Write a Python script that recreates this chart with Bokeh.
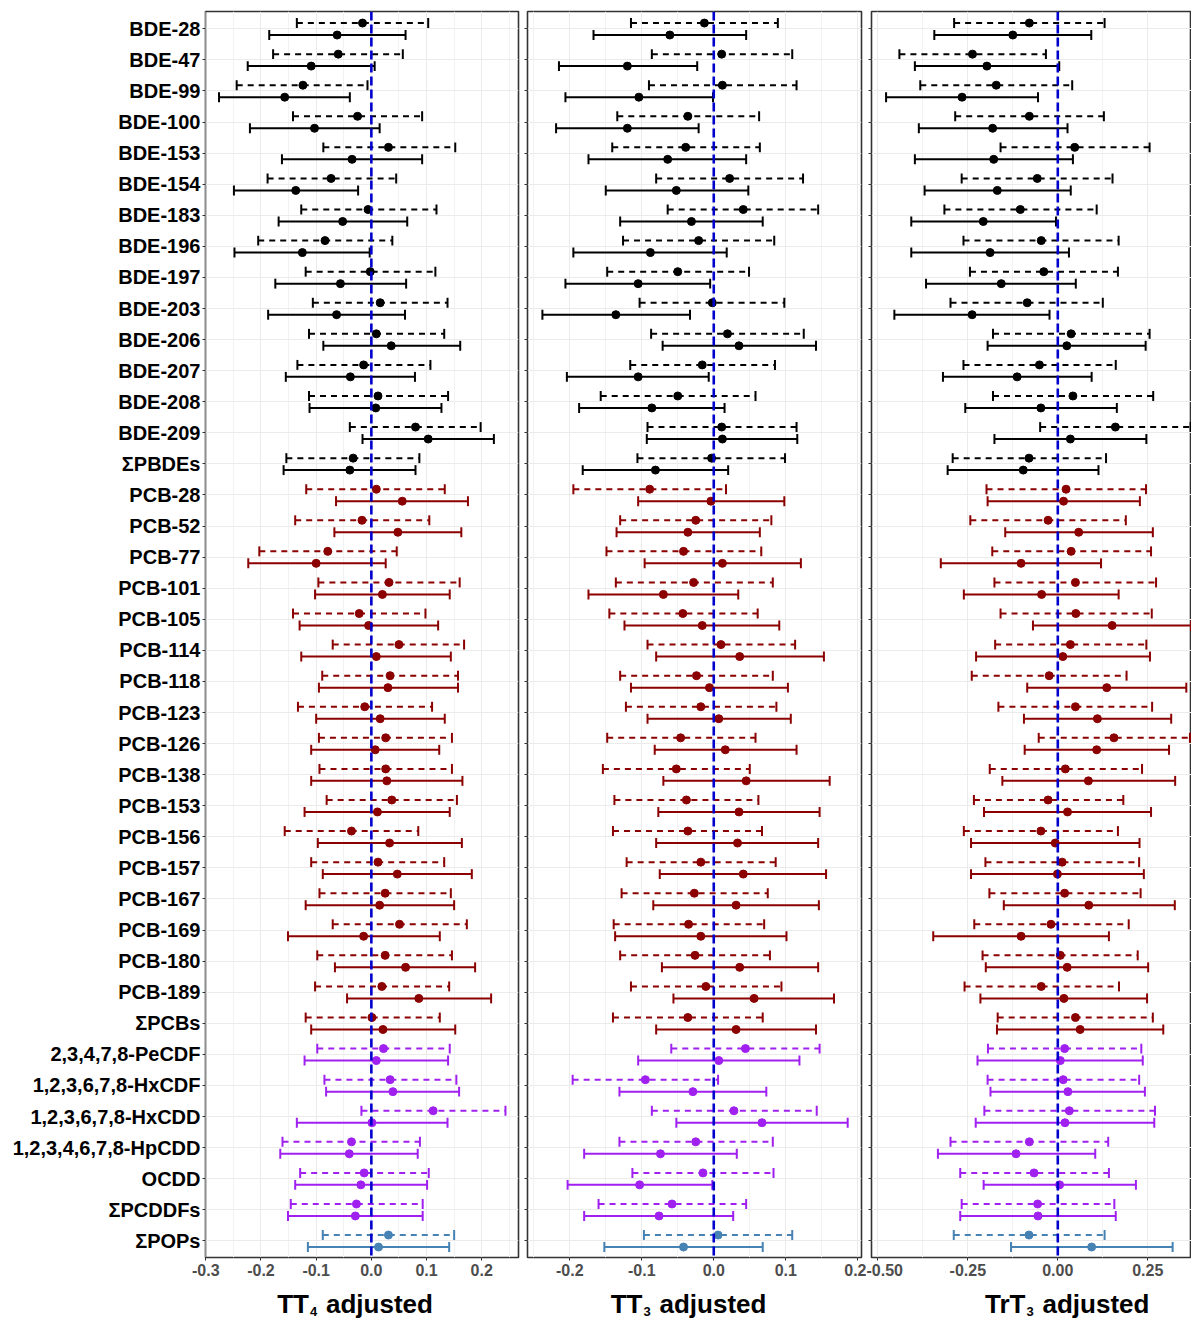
from bokeh.plotting import figure
from bokeh.models import Range1d, FixedTicker, PrintfTickFormatter, Span, ColumnDataSource
from bokeh.layouts import row, column
from bokeh.core.properties import value
from bokeh.embed import file_html
from bokeh.resources import INLINE

# ---------------- data ----------------
categories = ["BDE-28", "BDE-47", "BDE-99", "BDE-100", "BDE-153", "BDE-154", "BDE-183", "BDE-196",
              "BDE-197", "BDE-203", "BDE-206", "BDE-207", "BDE-208", "BDE-209", "ΣPBDEs",
              "PCB-28", "PCB-52", "PCB-77", "PCB-101", "PCB-105", "PCB-114", "PCB-118", "PCB-123",
              "PCB-126", "PCB-138", "PCB-153", "PCB-156", "PCB-157", "PCB-167", "PCB-169", "PCB-180",
              "PCB-189", "ΣPCBs",
              "2,3,4,7,8-PeCDF", "1,2,3,6,7,8-HxCDF", "1,2,3,6,7,8-HxCDD", "1,2,3,4,6,7,8-HpCDD",
              "OCDD", "ΣPCDDFs", "ΣPOPs"]
groups = ["PBDE"] * 15 + ["PCB"] * 18 + ["PCDDF"] * 6 + ["POP"]
group_colors = {"PBDE": "#000000", "PCB": "#8B0000", "PCDDF": "#A020F0", "POP": "#4682B4"}

# TT4 adjusted -- dashed series
tt4_dash_est = [-0.016, -0.060, -0.124, -0.025, 0.031, -0.073, -0.006, -0.084, -0.002, 0.016, 0.009, -0.014, 0.012, 0.080, -0.033,
                0.009, -0.017, -0.079, 0.032, -0.022, 0.050, 0.034, -0.012, 0.026, 0.026, 0.037, -0.036, 0.012, 0.025, 0.051, 0.025, 0.019, 0.001,
                0.022, 0.034, 0.112, -0.036, -0.013, -0.027, 0.031]
tt4_dash_lo = [-0.135, -0.178, -0.244, -0.142, -0.087, -0.188, -0.127, -0.205, -0.119, -0.106, -0.113, -0.134, -0.113, -0.039, -0.154,
               -0.118, -0.138, -0.203, -0.096, -0.142, -0.070, -0.089, -0.133, -0.095, -0.094, -0.081, -0.157, -0.109, -0.094, -0.070, -0.098, -0.102, -0.119,
               -0.098, -0.085, -0.018, -0.161, -0.129, -0.146, -0.088]
tt4_dash_hi = [0.103, 0.057, -0.007, 0.092, 0.152, 0.045, 0.118, 0.038, 0.116, 0.138, 0.132, 0.107, 0.139, 0.198, 0.087,
               0.133, 0.105, 0.046, 0.160, 0.098, 0.168, 0.157, 0.110, 0.146, 0.146, 0.155, 0.085, 0.132, 0.144, 0.173, 0.146, 0.141, 0.124,
               0.142, 0.154, 0.243, 0.088, 0.104, 0.093, 0.150]
# TT4 adjusted -- solid series
tt4_solid_est = [-0.062, -0.109, -0.157, -0.103, -0.035, -0.137, -0.052, -0.125, -0.056, -0.063, 0.036, -0.038, 0.008, 0.103, -0.039,
                 0.056, 0.048, -0.100, 0.020, -0.005, 0.009, 0.030, 0.016, 0.007, 0.028, 0.011, 0.033, 0.047, 0.015, -0.014, 0.062, 0.086, 0.021,
                 0.009, 0.039, 0.001, -0.040, -0.019, -0.029, 0.013]
tt4_solid_lo = [-0.185, -0.224, -0.276, -0.220, -0.162, -0.249, -0.168, -0.248, -0.174, -0.187, -0.087, -0.155, -0.112, -0.016, -0.159,
                -0.064, -0.067, -0.223, -0.102, -0.130, -0.127, -0.095, -0.100, -0.109, -0.109, -0.121, -0.097, -0.088, -0.119, -0.151, -0.066, -0.044, -0.109,
                -0.121, -0.082, -0.135, -0.165, -0.138, -0.151, -0.115]
tt4_solid_hi = [0.062, 0.006, -0.039, 0.015, 0.092, -0.024, 0.065, -0.003, 0.063, 0.061, 0.161, 0.079, 0.127, 0.222, 0.080,
                0.175, 0.163, 0.026, 0.142, 0.121, 0.144, 0.157, 0.133, 0.123, 0.165, 0.142, 0.164, 0.182, 0.150, 0.124, 0.188, 0.217, 0.152,
                0.139, 0.159, 0.138, 0.084, 0.101, 0.093, 0.141]

# TT3 adjusted -- dashed series
tt3_dash_est = [-0.013, 0.011, 0.012, -0.036, -0.039, 0.022, 0.041, -0.021, -0.050, -0.002, 0.019, -0.016, -0.050, 0.011, -0.003,
                -0.089, -0.025, -0.042, -0.028, -0.043, 0.010, -0.024, -0.018, -0.046, -0.052, -0.038, -0.036, -0.018, -0.027, -0.035, -0.026, -0.011, -0.036,
                0.044, -0.095, 0.028, -0.025, -0.015, -0.058, 0.006]
tt3_dash_lo = [-0.115, -0.086, -0.090, -0.134, -0.141, -0.080, -0.064, -0.126, -0.148, -0.103, -0.087, -0.116, -0.157, -0.092, -0.106,
               -0.195, -0.130, -0.149, -0.136, -0.145, -0.092, -0.130, -0.122, -0.148, -0.154, -0.138, -0.140, -0.121, -0.128, -0.139, -0.130, -0.115, -0.140,
               -0.059, -0.196, -0.086, -0.131, -0.113, -0.160, -0.097]
tt3_dash_hi = [0.089, 0.109, 0.115, 0.063, 0.064, 0.124, 0.145, 0.084, 0.049, 0.098, 0.125, 0.085, 0.058, 0.115, 0.099,
               0.017, 0.080, 0.066, 0.082, 0.061, 0.113, 0.082, 0.087, 0.058, 0.050, 0.062, 0.067, 0.086, 0.075, 0.070, 0.078, 0.094, 0.068,
               0.147, 0.006, 0.143, 0.082, 0.083, 0.045, 0.109]
# TT3 adjusted -- solid series
tt3_solid_est = [-0.061, -0.120, -0.104, -0.120, -0.064, -0.052, -0.031, -0.088, -0.105, -0.136, 0.035, -0.105, -0.086, 0.012, -0.081,
                 -0.004, -0.036, 0.012, -0.070, -0.016, 0.036, -0.006, 0.007, 0.016, 0.045, 0.035, 0.033, 0.041, 0.031, -0.018, 0.036, 0.056, 0.031,
                 0.007, -0.029, 0.067, -0.074, -0.103, -0.076, -0.042]
tt3_solid_lo = [-0.167, -0.215, -0.206, -0.219, -0.174, -0.150, -0.130, -0.195, -0.206, -0.238, -0.071, -0.204, -0.187, -0.093, -0.182,
                -0.105, -0.135, -0.096, -0.174, -0.124, -0.080, -0.115, -0.092, -0.082, -0.070, -0.077, -0.080, -0.075, -0.084, -0.137, -0.072, -0.056, -0.080,
                -0.105, -0.131, -0.052, -0.180, -0.203, -0.180, -0.152]
tt3_solid_hi = [0.045, -0.023, -0.001, -0.021, 0.045, 0.048, 0.068, 0.018, -0.005, -0.033, 0.142, -0.007, 0.015, 0.116, 0.020,
                0.098, 0.064, 0.121, 0.034, 0.091, 0.153, 0.103, 0.107, 0.115, 0.161, 0.147, 0.145, 0.156, 0.146, 0.101, 0.145, 0.167, 0.142,
                0.119, 0.073, 0.186, 0.032, -0.002, 0.027, 0.068]

# TrT3 adjusted -- dashed series
trt3_dash_est = [-0.079, -0.237, -0.171, -0.079, 0.047, -0.057, -0.104, -0.046, -0.039, -0.085, 0.037, -0.051, 0.042, 0.160, -0.080,
                 0.023, -0.027, 0.037, 0.049, 0.050, 0.035, -0.024, 0.049, 0.156, 0.021, -0.027, -0.047, 0.012, 0.019, -0.019, 0.007, -0.046, 0.049,
                 0.019, 0.015, 0.032, -0.079, -0.066, -0.056, -0.080]
trt3_dash_lo = [-0.288, -0.440, -0.382, -0.285, -0.159, -0.267, -0.315, -0.262, -0.244, -0.298, -0.180, -0.262, -0.180, -0.049, -0.292,
                -0.198, -0.243, -0.182, -0.176, -0.159, -0.174, -0.239, -0.165, -0.053, -0.189, -0.233, -0.261, -0.201, -0.190, -0.232, -0.209, -0.259, -0.167,
                -0.194, -0.195, -0.204, -0.298, -0.271, -0.267, -0.289]
trt3_dash_hi = [0.130, -0.033, 0.040, 0.128, 0.255, 0.152, 0.108, 0.169, 0.167, 0.125, 0.255, 0.161, 0.265, 0.369, 0.134,
                0.245, 0.189, 0.259, 0.273, 0.261, 0.246, 0.191, 0.262, 0.367, 0.234, 0.182, 0.167, 0.226, 0.230, 0.197, 0.222, 0.170, 0.264,
                0.232, 0.226, 0.270, 0.140, 0.142, 0.157, 0.130]
# TrT3 adjusted -- solid series
trt3_solid_est = [-0.125, -0.197, -0.266, -0.181, -0.178, -0.168, -0.207, -0.188, -0.157, -0.238, 0.025, -0.113, -0.047, 0.035, -0.096,
                  0.016, 0.058, -0.102, -0.045, 0.151, 0.014, 0.136, 0.110, 0.108, 0.085, 0.027, -0.007, -0.001, 0.086, -0.102, 0.026, 0.017, 0.062,
                  0.007, 0.028, 0.020, -0.116, 0.005, -0.055, 0.094]
trt3_solid_lo = [-0.343, -0.397, -0.477, -0.386, -0.397, -0.370, -0.407, -0.407, -0.366, -0.454, -0.195, -0.319, -0.257, -0.176, -0.306,
                 -0.195, -0.146, -0.325, -0.261, -0.069, -0.227, -0.085, -0.094, -0.092, -0.154, -0.205, -0.241, -0.241, -0.150, -0.346, -0.200, -0.215, -0.169,
                 -0.223, -0.187, -0.228, -0.333, -0.206, -0.271, -0.130]
trt3_solid_hi = [0.093, 0.004, -0.055, 0.027, 0.042, 0.036, -0.005, 0.031, 0.050, -0.023, 0.244, 0.094, 0.164, 0.246, 0.113,
                 0.228, 0.264, 0.120, 0.169, 0.370, 0.256, 0.357, 0.315, 0.309, 0.326, 0.259, 0.227, 0.239, 0.325, 0.142, 0.251, 0.248, 0.293,
                 0.236, 0.242, 0.268, 0.104, 0.217, 0.161, 0.319]

tt4_ticks = [-0.3, -0.2, -0.1, 0.0, 0.1, 0.2]
tt4_minor = [-0.25, -0.15, -0.05, 0.05, 0.15, 0.25]
tt3_ticks = [-0.2, -0.1, 0.0, 0.1, 0.2]
tt3_minor = [-0.25, -0.15, -0.05, 0.05, 0.15]
trt3_ticks = [-0.50, -0.25, 0.0, 0.25]
trt3_minor = [-0.375, -0.125, 0.125, 0.375]

title_main = ["TT", "TT", "TrT"]
title_sub = ["4", "3", "3"]
title_rest = ["adjusted", "adjusted", "adjusted"]

# ---------------- layout constants ----------------
PAGE_W, PAGE_H = 1191, 1322
FRAME_H = 1246
TOP_B, BOT_B = 11, 26
MAIN_H = TOP_B + FRAME_H + BOT_B
TITLE_H = PAGE_H - MAIN_H
Y_TOP, Y_BOT = -0.557, 39.537
DASH_OFF, SOLID_OFF, CAP = -0.185, 0.2, 0.16
FONT = "Liberation Sans"

n = len(categories)
colors = [group_colors[g] for g in groups]


def make_source(est, lo, hi, off):
    ys = [i + off for i in range(n)]
    return ColumnDataSource(dict(est=est, lo=lo, hi=hi, y=ys,
                                 y0=[v - CAP for v in ys], y1=[v + CAP for v in ys],
                                 color=colors))


def make_panel(dash, solid, xr, ticks, minor, fmt, frame_w, mbl, mbr, show_labels):
    p = figure(frame_width=frame_w, frame_height=FRAME_H,
               x_range=Range1d(*xr), y_range=Range1d(Y_BOT, Y_TOP),
               output_backend="svg", toolbar_location=None,
               min_border_left=mbl, min_border_right=mbr,
               min_border_top=TOP_B, min_border_bottom=BOT_B,
               background_fill_color="white", border_fill_color="white")
    p.outline_line_color = "#333333"
    p.outline_line_width = 1.6

    xt = FixedTicker(ticks=ticks, minor_ticks=minor)
    p.xaxis.ticker = xt
    p.xgrid.ticker = xt
    p.xaxis.formatter = PrintfTickFormatter(format=fmt)
    yt = FixedTicker(ticks=list(range(n)))
    p.yaxis.ticker = yt
    p.ygrid.ticker = yt
    if show_labels:
        p.yaxis.major_label_overrides = {i: c for i, c in enumerate(categories)}
        p.yaxis.major_label_text_font_size = "20px"
        p.yaxis.major_label_text_font_style = "bold"
        p.yaxis.major_label_text_color = "#000000"
        p.yaxis.major_label_text_font = FONT
        p.yaxis.major_label_standoff = 2
    else:
        p.yaxis.major_label_overrides = {i: "" for i in range(n)}
        p.yaxis.major_label_standoff = 0
    for ax in (p.xaxis, p.yaxis):
        ax.axis_line_color = None
        ax.major_tick_in = 0
        ax.major_tick_out = 3
        ax.major_tick_line_color = "#333333"
        ax.minor_tick_line_color = None
    p.xaxis.major_label_text_font = FONT
    p.xaxis.major_label_text_font_style = "bold"
    p.xaxis.major_label_text_font_size = "16px"
    p.xaxis.major_label_text_color = "#4D4D4D"
    p.xaxis.major_label_standoff = 2

    p.xgrid.grid_line_color = "#EBEBEB"
    p.xgrid.minor_grid_line_color = "#F2F2F2"
    p.ygrid.grid_line_color = "#EBEBEB"

    for (est, lo, hi), off, dash_style in ((dash, DASH_OFF, "6 5"), (solid, SOLID_OFF, "solid")):
        src = make_source(est, lo, hi, off)
        p.segment(x0="lo", y0="y", x1="hi", y1="y", line_color="color", line_width=2,
                  line_dash=dash_style, source=src)
        p.segment(x0="lo", y0="y0", x1="lo", y1="y1", line_color="color", line_width=2, source=src)
        p.segment(x0="hi", y0="y0", x1="hi", y1="y1", line_color="color", line_width=2, source=src)
        p.scatter(x="est", y="y", size=8, marker="circle", fill_color="color",
                  line_color="color", source=src)

    p.add_layout(Span(location=0, dimension="height", line_color="#0000CD",
                      line_width=2.6, line_dash="9 4"))
    return p


# frame left edges 205, 527, 871 ; widths 313, 334, 320
p1 = make_panel((tt4_dash_est, tt4_dash_lo, tt4_dash_hi), (tt4_solid_est, tt4_solid_lo, tt4_solid_hi),
                (-0.3005, 0.2666), tt4_ticks, tt4_minor, "%.1f", 313, 205, 4, True)
p2 = make_panel((tt3_dash_est, tt3_dash_lo, tt3_dash_hi), (tt3_solid_est, tt3_solid_lo, tt3_solid_hi),
                (-0.2587, 0.2052), tt3_ticks, tt3_minor, "%.1f", 334, 5, 5, False)
p3 = make_panel((trt3_dash_est, trt3_dash_lo, trt3_dash_hi), (trt3_solid_est, trt3_solid_lo, trt3_solid_hi),
                (-0.5175, 0.3714), trt3_ticks, trt3_minor, "%.2f", 320, 5, 0, False)

# ---------------- x-axis titles (with subscripts) ----------------
frame_lefts = [205, 527, 871]
title_ends = [103.5, 115, 154]          # px from frame left where the main part ends
anchor = [fl + te for fl, te in zip(frame_lefts, title_ends)]

t = figure(width=PAGE_W, height=TITLE_H, x_range=Range1d(0, PAGE_W), y_range=Range1d(0, TITLE_H),
           x_axis_type=None, y_axis_type=None, output_backend="svg", toolbar_location=None,
           min_border=0, outline_line_color=None,
           background_fill_color="white", border_fill_color="white")
t.grid.visible = False
base_main = PAGE_H - 1303
base_sub = PAGE_H - 1311
t.text(x=anchor, y=[base_main] * 3, text=title_main, text_align="right", text_baseline="alphabetic",
       text_font=value(FONT), text_font_style="bold", text_font_size="26px", text_color="#000000")
t.text(x=[a + 1 for a in anchor], y=[base_sub] * 3, text=title_sub, text_align="left",
       text_baseline="alphabetic", text_font=value(FONT), text_font_style="bold",
       text_font_size="13px", text_color="#000000")
t.text(x=[a + 17 for a in anchor], y=[base_main] * 3, text=title_rest, text_align="left",
       text_baseline="alphabetic", text_font=value(FONT), text_font_style="bold",
       text_font_size="26px", text_color="#000000")

layout = column(row(p1, p2, p3, spacing=0), t, spacing=0)
open("out.html", "w").write(file_html(layout, INLINE))
